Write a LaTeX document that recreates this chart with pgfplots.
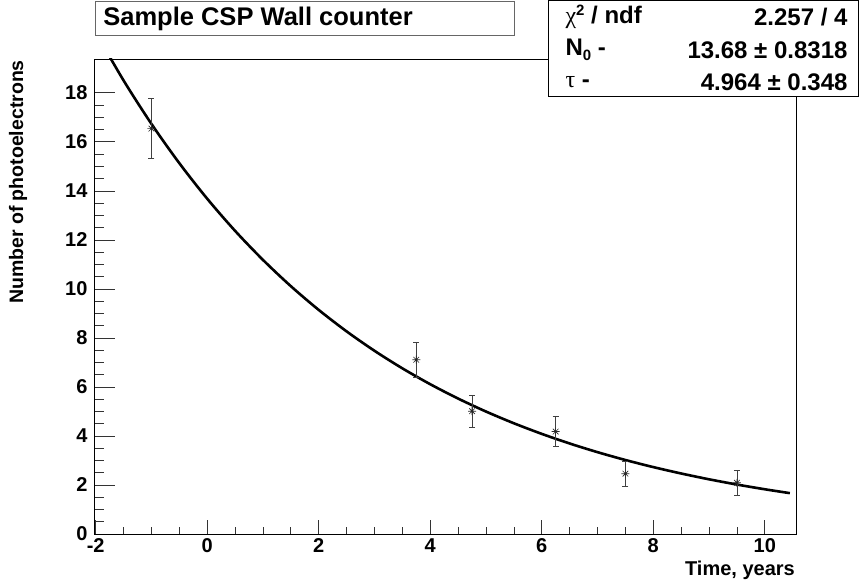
\documentclass[border=0pt]{standalone}
\usepackage{fontspec}
\setmainfont{Liberation Sans}
\newfontfamily\symfont{Liberation Serif}
\usepackage{pgfplots}
\pgfplotsset{compat=1.18}
\pgfdeclareplotmark{rootstar}{%
  \pgfpathmoveto{\pgfqpoint{-\pgfplotmarksize}{0pt}}\pgfpathlineto{\pgfqpoint{\pgfplotmarksize}{0pt}}%
  \pgfpathmoveto{\pgfqpoint{0pt}{-\pgfplotmarksize}}\pgfpathlineto{\pgfqpoint{0pt}{\pgfplotmarksize}}%
  \pgfpathmoveto{\pgfqpoint{-0.707\pgfplotmarksize}{-0.707\pgfplotmarksize}}\pgfpathlineto{\pgfqpoint{0.707\pgfplotmarksize}{0.707\pgfplotmarksize}}%
  \pgfpathmoveto{\pgfqpoint{-0.707\pgfplotmarksize}{0.707\pgfplotmarksize}}\pgfpathlineto{\pgfqpoint{0.707\pgfplotmarksize}{-0.707\pgfplotmarksize}}%
  \pgfusepathqstroke}
\pgfplotstableread{
x y ey
-1 16.54 1.23
3.75 7.11 0.70
4.75 5.01 0.65
6.25 4.18 0.62
7.5 2.46 0.51
9.5 2.09 0.50
}\datatable
\pgfplotsset{rootframe/.style={
  at={(94bp,49bp)}, anchor=south west,
  scale only axis, width=702bp, height=475bp,
  xmin=-2.03, xmax=10.56, ymin=0, ymax=19.38,
  tick align=inside, xtick pos=lower, ytick pos=left,
  tick style={black!80, line width=0.7bp},
  axis line style={line width=0.9bp},
  /pgf/number format/assume math mode=true,
  ticklabel style={font=\bfseries\fontsize{20bp}{20bp}\selectfont},
}}
\begin{document}
\begin{tikzpicture}
\useasboundingbox (0,0) rectangle (859bp,583bp);
% x ticks
\begin{axis}[rootframe,
  xtick={-2,0,...,10}, ytick=\empty, minor x tick num=3,
  major tick length=14bp, minor tick length=7bp,
  xticklabel style={yshift=-1bp},
]
\end{axis}
% y ticks and data
\begin{axis}[rootframe,
  ytick={0,2,...,18}, xtick=\empty, minor y tick num=3,
  major tick length=21bp, minor tick length=10.5bp,
  yticklabel style={xshift=-3bp},
]
\addplot[black, line width=2.6bp, smooth] coordinates {
(-2,20.467) (-1.5,18.506) (-1,16.733) (-0.5,15.130) (0,13.68) (0.5,12.369)
(1,11.184) (1.5,10.112) (2,9.143) (2.5,8.267) (3,7.475) (3.5,6.759)
(4,6.111) (4.5,5.526) (5,4.996) (5.5,4.518) (6,4.085) (6.5,3.693)
(7,3.339) (7.5,3.019) (8,2.730) (8.5,2.469) (9,2.232) (9.5,2.018)
(10,1.825) (10.45,1.667)};
\addplot[only marks, mark=rootstar, mark size=4bp, mark options={black!85, line width=0.6bp},
  error bars/.cd, y dir=both, y explicit,
  error bar style={line width=0.7bp, black!75},
  error mark options={rotate=90, mark size=3bp, line width=0.7bp, black!75}]
  table[x=x, y=y, y error=ey] {\datatable};
\end{axis}
% axis titles
\node[rotate=90, anchor=east, inner sep=0pt, font=\bfseries\fontsize{19.5bp}{19.5bp}\selectfont] at (18bp,523bp) {Number of photoelectrons};
\node[anchor=east, inner sep=0pt, font=\bfseries\fontsize{20bp}{20bp}\selectfont] at (795bp,13bp) {Time, years};
% title box
\draw[black!60, line width=1bp, fill=white] (95bp,547bp) rectangle (514bp,581bp);
\node[font=\bfseries\fontsize{25.5bp}{25.5bp}\selectfont] at (258bp,564bp) {Sample CSP Wall counter};
% stats box
\draw[black, line width=1bp, fill=white] (548.5bp,486bp) rectangle (858.5bp,582.5bp);
\node[anchor=west, font=\bfseries\fontsize{24bp}{24bp}\selectfont] at (562bp,566bp) {{\symfont\mdseries χ}\raisebox{0.6ex}{\fontsize{15bp}{15bp}\selectfont 2} / ndf};
\node[anchor=east, font=\bfseries\fontsize{24bp}{24bp}\selectfont] at (851bp,566bp) {2.257 / 4};
\node[anchor=west, font=\bfseries\fontsize{24bp}{24bp}\selectfont] at (562bp,533bp) {N\raisebox{-0.4ex}{\fontsize{15bp}{15bp}\selectfont 0} -};
\node[anchor=east, font=\bfseries\fontsize{24bp}{24bp}\selectfont] at (851bp,533bp) {13.68 ± 0.8318};
\node[anchor=west, font=\bfseries\fontsize{24bp}{24bp}\selectfont] at (562bp,501bp) {{\symfont\mdseries τ} -};
\node[anchor=east, font=\bfseries\fontsize{24bp}{24bp}\selectfont] at (851bp,501bp) {4.964 ± 0.348};
\end{tikzpicture}
\end{document}
